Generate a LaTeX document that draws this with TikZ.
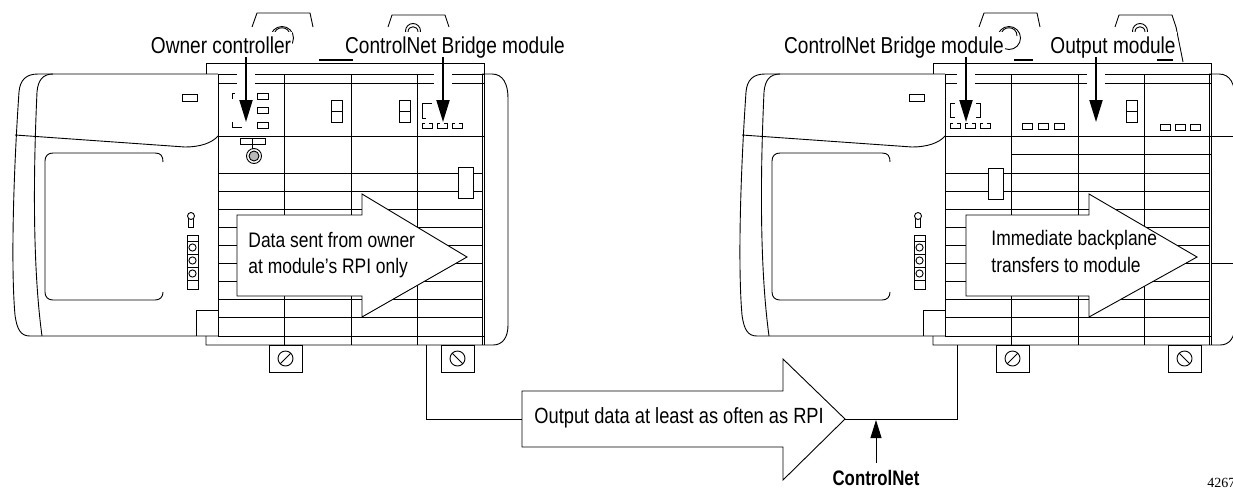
\documentclass[tikz,border=0pt]{standalone}
\usepackage{fontspec}
\setmainfont{Liberation Sans}
\newfontfamily\cf[FakeStretch=0.83]{Liberation Sans}
\newfontfamily\cfb[FakeStretch=0.8]{Liberation Sans}
\newfontfamily\numfont{Liberation Serif}
\usetikzlibrary{arrows.meta}
\newcommand{\ubox}[2]{\draw (#1+3,#2) -- (#1,#2) -- (#1,#2+5) -- (#1+10,#2+5) -- (#1+10,#2) -- (#1+7,#2);}
\newcommand{\smallrect}[2]{\draw (#1,#2) rectangle (#1+10,#2+6);}
\newcommand{\drect}[2]{\draw (#1,#2) rectangle (#1+11,#2+22); \draw (#1,#2+11) -- (#1+11,#2+11);}
\newcommand{\drawchassis}{%
  % tabs on top
  \draw (252,27) -- (257,13) -- (310,13) -- (313,27);
  \draw (388,27) -- (392,15) -- (445,15) -- (449,27);
  \draw (282,38) circle[radius=11.5pt];
  \draw (274,36) .. controls (274,25) and (290,25) .. (290,36);
  \draw (413,31) circle[radius=7.5pt];
  \draw (408,32) .. controls (408,25) and (418,25) .. (418,32);
  % controller body
  \draw (218,74) -- (38,74) .. controls (26,74) and (20,80) .. (19,92) .. controls (13,180) and (11,270) .. (15,315) .. controls (17,330) and (21,336) .. (30,336) -- (218,336);
  \draw (53,74) .. controls (43,74) and (38,80) .. (37,92) .. controls (33,180) and (33,270) .. (42,336);
  \draw (15,135) -- (185,147) .. controls (200,147) and (212,143) .. (218,136);
  \draw (163,162) .. controls (163,156) and (161,153) .. (155,153) -- (53,153) .. controls (48,153) and (45,156) .. (45,161) -- (45,292) .. controls (45,297) and (48,300) .. (53,300) -- (155,300) .. controls (160,300) and (163,297) .. (163,292);
  \draw (182,94) rectangle (197,101);
  \draw (191,216) circle[radius=3.5pt];
  \draw (188.5,219) -- (188.5,227) -- (193.5,227) -- (193.5,219);
  \draw (187,235) rectangle (198,289);
  \foreach \yy in {241,254,267,280} {\draw (187,\yy) -- (198,\yy);}
  \foreach \yy in {247.5,260.5,273.5} {\draw (192.5,\yy) circle[radius=3.6pt];}
  \draw (196,336) -- (196,310) -- (218,310);
  % backplate, modules, end cap
  \draw (206,74) -- (206,63) -- (484,63);
  \draw (482,74) -- (492,74) .. controls (503,74) and (508,84) .. (508,98) -- (508,325) .. controls (508,337) and (503,345) .. (493,345) -- (206,345) -- (206,336);
  \draw (218,74) -- (218,336);
  \draw (218,74) -- (484,74);
  \draw (218,83) -- (484,83);
  \foreach \xx in {284,351,417} {\draw (\xx,74) -- (\xx,345);}
  \draw (482,74) -- (482,345);
  \draw (484,63) -- (484,345);
  \draw (218,136) -- (484,136);
  \foreach \yy in {173,191,...,317} {\draw (218,\yy) -- (482,\yy);}
  \draw (218,336) -- (484,336);
  % mounting screws
  \draw (269,345) rectangle (302,372);
  \draw (285.5,358.5) circle[radius=7.5pt];
  \draw (280.2,363.8) -- (290.8,353.2);
  \draw (441,345) rectangle (474,372);
  \draw (457.5,358.5) circle[radius=7.5pt];
  \draw (452.2,353.2) -- (462.8,363.8);
}

\begin{document}
\begin{tikzpicture}[x=1pt,y=-1pt, line width=0.9pt,
  lbl/.style={fill=white, inner xsep=1pt, inner ysep=4pt, text depth=0pt,
              font=\cf\fontsize{23}{27}\selectfont, anchor=base},
  intext/.style={font=\cf\fontsize{21}{25}\selectfont, anchor=base west, inner sep=0pt},
  ptr/.style={line width=2pt, -{Triangle[length=22pt,width=13pt]}},
  blockarrow/.style={draw, fill=white, line width=0.9pt},
  gap/.style={fill=white}]

\useasboundingbox (0,0) rectangle (1233,488);
\clip (0,0) rectangle (1233,488);

% ---------- both chassis ----------
\drawchassis
\begin{scope}[shift={(727,0)}]
  \drawchassis
\end{scope}

% ---------- left chassis module details ----------
\draw (232,99) -- (232,93) -- (235,93);
\draw (232,122) -- (232,127) -- (242,127);
\draw (257,93) rectangle (268,99);
\draw (257,107) rectangle (268,113);
\draw (257,122) rectangle (268,128);
\draw (240,138) rectangle (265,144);
\draw (252.5,138) -- (252.5,148.5);
\draw[fill=white] (254,156) circle[radius=7.5pt];
\draw[fill=gray!55] (254,156) circle[radius=5pt];
\drect{331}{100}
\drect{399}{100}
\draw (432,103) -- (422,103) -- (422,118) -- (426,118);
\ubox{422}{123} \ubox{437}{123} \ubox{452}{123}
\draw[fill=white] (458,167) rectangle (473,198);

% ---------- right chassis module details ----------
\draw (1012,154) -- (1211,154);
\draw (1211,136) -- (1233,136);
\draw (1211,263) -- (1233,263);
\draw (955,103) -- (950,103) -- (950,117) -- (955,117);
\draw (976,103) -- (980,103) -- (980,117) -- (976,117);
\ubox{950}{123} \ubox{965}{123} \ubox{980}{123}
\draw[fill=white] (988,168) rectangle (1003,199);
\smallrect{1022}{123} \smallrect{1038}{123} \smallrect{1054}{123}
\drect{1126}{100}
\smallrect{1160}{124} \smallrect{1175}{124} \smallrect{1190}{124}
\draw (1176,27) -- (1183,62);

% gaps in the top lines where the pointers pass
\fill[gap] (237,69) rectangle (255,88);
\fill[gap] (434,69) rectangle (452,88);
\fill[gap] (957,69) rectangle (975,88);
\fill[gap] (1087,69) rectangle (1105,88);

% ---------- labels and pointers ----------
\node[lbl] (lOwner) at (221,53) {Owner controller};
\node[lbl] (lBridgeA) at (455,53) {ControlNet Bridge module};
\node[lbl] (lBridgeB) at (894,53) {ControlNet Bridge module};
\node[lbl] (lOutput) at (1113,53) {Output module};
\draw[line width=1.4pt] (319,60) -- (353,60);
\draw[line width=1.4pt] (1014,60) -- (1033,60);
\draw[line width=1.4pt] (1157,60) -- (1173,60);

\coordinate (tOwner) at (246,122);
\coordinate (tBridgeA) at (443,122);
\coordinate (tBridgeB) at (966,122);
\coordinate (tOutput) at (1096,122);
\draw[ptr] (lOwner.south -| tOwner) -- (tOwner);
\draw[ptr] (lBridgeA.south -| tBridgeA) -- (tBridgeA);
\draw[ptr] (lBridgeB.south -| tBridgeB) -- (tBridgeB);
\draw[ptr] (lOutput.south -| tOutput) -- (tOutput);

% ---------- block arrows ----------
\draw[blockarrow] (237,215) -- (362,215) -- (362,194) -- (467,257) -- (362,317) -- (362,296) -- (237,296) -- cycle;
\node[intext] (tData1) at (248,247.5) {Data sent from owner};
\node[intext] (tData2) at (248,273) {at module’s RPI only};

\draw[blockarrow] (966,215) -- (1089,215) -- (1089,194) -- (1197,257) -- (1089,317) -- (1089,296) -- (966,296) -- cycle;
\node[intext] (tImm1) at (991,245.5) {Immediate backplane};
\node[intext] (tImm2) at (991,272) {transfers to module};

% ---------- ControlNet cable ----------
\coordinate (cabL) at (426,345);
\coordinate (cabLb) at (426,419);
\coordinate (arrL) at (522,419);
\coordinate (arrT) at (845,419);
\coordinate (cabRb) at (957,419);
\coordinate (cabR) at (957,345);
\draw (cabL) -- (cabLb) -- (arrL);
\draw (arrT) -- (cabRb) -- (cabR);
\draw[blockarrow] (522,391) -- (783,391) -- (783,359) -- (arrT) -- (783,480) -- (783,447) -- (522,447) -- cycle;
\node[intext, font=\cf\fontsize{22}{26}\selectfont] (tOut) at (534,423) {Output data at least as often as RPI};

\node[font=\cfb\bfseries\fontsize{21}{24}\selectfont, anchor=base, inner sep=0pt] (cn) at (876,485) {ControlNet};
\coordinate (cnTail) at (876,463);
\coordinate (cnTip) at (876,420);
\draw[line width=0.9pt, -{Triangle[length=18pt,width=11pt]}] (cnTail) -- (cnTip);

\node[font=\numfont\fontsize{14}{16}\selectfont, anchor=base west, inner sep=0pt] (fig) at (1207,487) {4267};
\end{tikzpicture}
\end{document}
